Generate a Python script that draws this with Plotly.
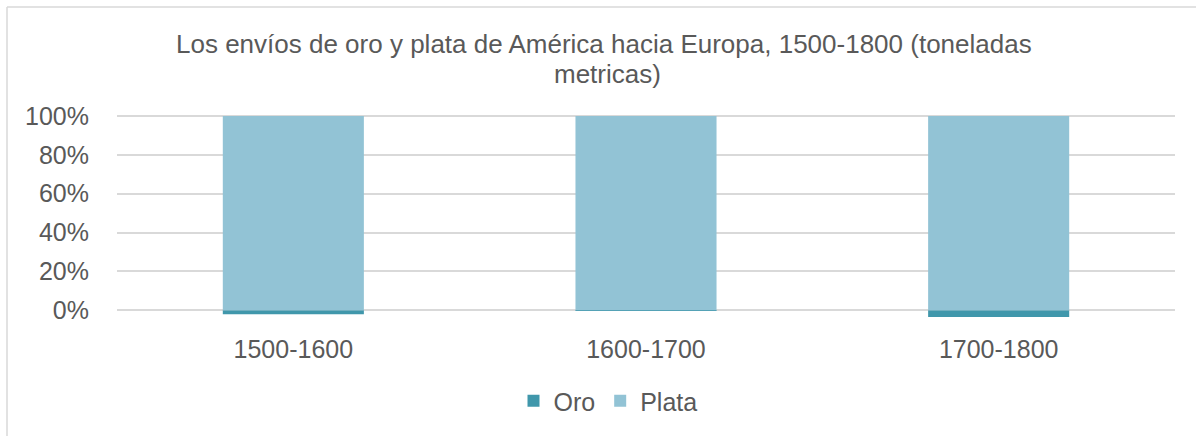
import plotly.graph_objects as go

categories = ["1500-1600", "1600-1700", "1700-1800"]
oro_pct = [2.0, 0.3, 3.5]
plata_pct = [98.0, 99.7, 96.5]
tick_vals = [0, 20, 40, 60, 80, 100]
tick_text = ["0%", "20%", "40%", "60%", "80%", "100%"]
title_lines = ["Los envíos de oro y plata de América hacia Europa, 1500-1800 (toneladas",
               "metricas)"]

FONT = "Liberation Sans, Arial, sans-serif"
GREY = "#595959"

fig = go.Figure()
fig.add_trace(go.Bar(
    name="Oro", x=categories, y=[-v for v in oro_pct],
    marker=dict(color="#4097AB", line=dict(width=0)),
))
fig.add_trace(go.Bar(
    name="Plata", x=categories, y=[p + o for p, o in zip(plata_pct, oro_pct)],
    marker=dict(color="#92C3D5", line=dict(width=0)),
))

W, H = 1196, 436
L, R, T, B = 117, 1175, 114, 320

def px_x(x):
    return (x - L) / (R - L)

def px_y(y):
    return (B - y) / (B - T)

annotations = [
    dict(text=title_lines[0], x=px_x(604), y=px_y(44), xref="paper", yref="paper",
         xanchor="center", yanchor="middle", showarrow=False,
         font=dict(family=FONT, color=GREY, size=26)),
    dict(text=title_lines[1], x=px_x(607), y=px_y(74), xref="paper", yref="paper",
         xanchor="center", yanchor="middle", showarrow=False,
         font=dict(family=FONT, color=GREY, size=26)),
]

fig.update_layout(
    width=W, height=H,
    barmode="relative",
    bargap=0.6,
    plot_bgcolor="white",
    paper_bgcolor="white",
    font=dict(family=FONT, color=GREY, size=25),
    margin=dict(l=L, r=W - R, t=T, b=H - B, autoexpand=False),
    annotations=annotations,
    showlegend=True,
    legend=dict(
        orientation="h",
        x=px_x(608), xanchor="center",
        y=px_y(401), yanchor="middle",
        font=dict(family=FONT, color=GREY, size=25),
        traceorder="normal",
    ),
    xaxis=dict(
        showgrid=False, zeroline=False, showline=False,
        tickfont=dict(family=FONT, color=GREY, size=25),
        ticklabelstandoff=12,
    ),
    yaxis=dict(
        range=[-5, 101],
        tickvals=tick_vals, ticktext=tick_text,
        showgrid=True, gridcolor="#D9D9D9", gridwidth=1.5,
        zeroline=False, showline=False,
        tickfont=dict(family=FONT, color=GREY, size=25),
        ticklabelstandoff=27,
    ),
    shapes=[
        dict(type="line", xref="paper", yref="paper",
             x0=px_x(7), x1=px_x(7), y0=px_y(7), y1=px_y(440),
             line=dict(color="#D9D9D9", width=1.5)),
        dict(type="line", xref="paper", yref="paper",
             x0=px_x(7), x1=px_x(1200), y0=px_y(7), y1=px_y(7),
             line=dict(color="#D9D9D9", width=1.5)),
    ],
)

fig.write_html("out.html", config={"displayModeBar": False},
               post_script="document.body.style.margin='0';document.body.style.overflow='hidden';")
